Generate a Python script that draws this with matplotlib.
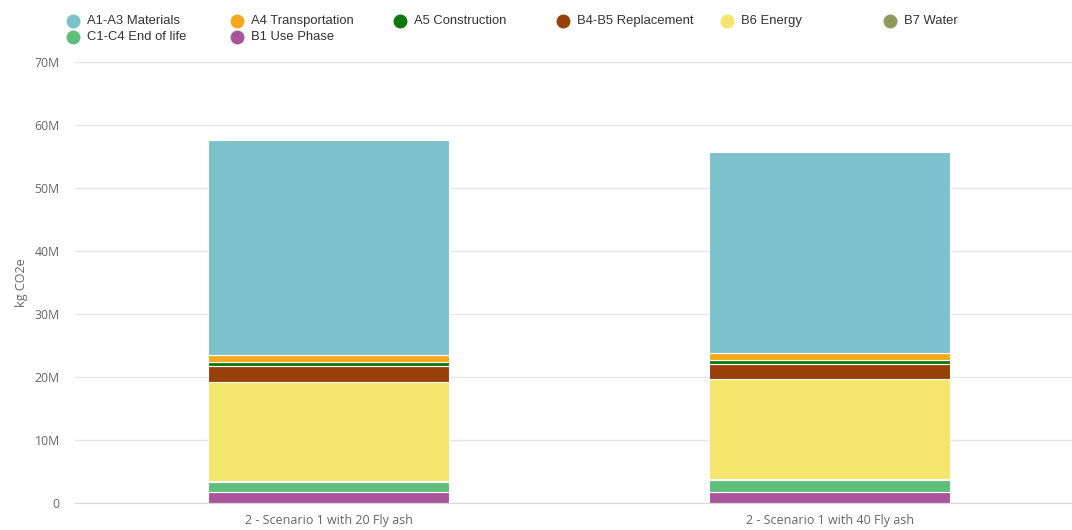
import matplotlib
matplotlib.use('Agg')
import matplotlib.pyplot as plt
from matplotlib.lines import Line2D
from matplotlib.ticker import FuncFormatter

# scenarios and life-cycle stages (values in million kg CO2e)
scenarios = ['2 - Scenario 1 with 20 Fly ash', '2 - Scenario 1 with 40 Fly ash']
stages = ['A1-A3 Materials', 'A4 Transportation', 'A5 Construction', 'B4-B5 Replacement',
          'B6 Energy', 'B7 Water', 'C1-C4 End of life', 'B1 Use Phase']
colors = ['#7cc1cb', '#f5a81c', '#0b7a0b', '#983f0a', '#f4e56d', '#8e9a5c', '#5fbf7a', '#a8559b']

a1_a3 = [34.1, 31.93]
a4 = [1.1, 1.07]
a5 = [0.6, 0.62]
b4_b5 = [2.5, 2.38]
b6 = [15.8, 15.88]
b7 = [0.05, 0.05]
c1_c4 = [1.6, 1.93]
b1 = [1.84, 1.84]

series = [a1_a3, a4, a5, b4_b5, b6, b7, c1_c4, b1]

fig = plt.figure(figsize=(10.72, 5.30), dpi=100)
ax = fig.add_axes([75 / 1072, 1 - 503.3 / 530, 1 - 75 / 1072, (503.3 - 61.7) / 530])

x = range(len(scenarios))
bottom = [0.0] * len(scenarios)
# stack from the bottom (last series) up to the first
for vals, col, name in reversed(list(zip(series, colors, stages))):
    v = [s * 1e6 for s in vals]
    ax.bar(x, v, width=0.48, bottom=bottom, color=col, edgecolor='white', linewidth=0.8, label=name)
    bottom = [b + s for b, s in zip(bottom, v)]

ax.set_ylim(0, 70e6)
ax.set_xlim(-0.506, 1.484)
ax.set_yticks([i * 10e6 for i in range(8)])
ax.yaxis.set_major_formatter(FuncFormatter(lambda v, p: '0' if v == 0 else '%dM' % (v / 1e6)))
ax.set_xticks(list(x))
ax.set_xticklabels(scenarios)
ax.grid(axis='y', color='#e6e6e6', linewidth=1)
ax.set_axisbelow(True)
for s in ['top', 'right', 'left']:
    ax.spines[s].set_visible(False)
ax.spines['bottom'].set_color('#d8d8d8')
ax.tick_params(axis='y', length=0, colors='#666666', labelsize=8.8, pad=11)
ax.tick_params(axis='x', length=0, colors='#666666', labelsize=9, pad=8)
for t in ax.get_xticklabels() + ax.get_yticklabels():
    t.set_fontfamily('Open Sans')
ax.set_ylabel('kg CO2e', fontsize=9, color='#666666', fontfamily='Open Sans', labelpad=5)

# legend laid out like the original grid
xs = [73, 237, 400, 563, 727, 890]
for i, (name, col) in enumerate(zip(stages, colors)):
    row, c = divmod(i, 6)
    px = xs[c]
    py = 21 + row * 16
    fig.add_artist(Line2D([px / 1072], [1 - py / 530], marker='o', markersize=9,
                          color=col, linestyle='none', transform=fig.transFigure))
    fig.text((px + 14) / 1072, 1 - py / 530, name, fontsize=9.4, color='#333333',
             fontfamily='Liberation Sans', va='center', ha='left')

fig.savefig('out.png', dpi=100, facecolor='white')
